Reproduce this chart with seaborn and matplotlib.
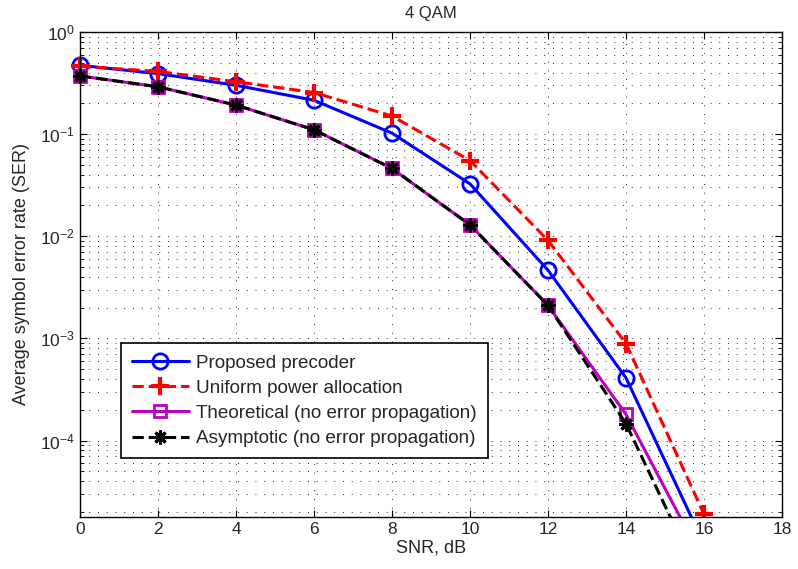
import numpy as np
import pandas as pd
import matplotlib
matplotlib.use("Agg")
import matplotlib.pyplot as plt
import seaborn as sns

# SER 곡선 값
snr = [0, 2, 4, 6, 8, 10, 12, 14, 16]
ser_proposed = [0.47, 0.39, 0.30, 0.214, 0.102, 0.0325, 0.00464, 4.1e-4, 9.7e-6]
ser_uniform = [0.46, 0.41, 0.325, 0.255, 0.15, 0.055, 0.0091, 8.9e-4, 1.9e-5]
ser_theory = [0.37, 0.29, 0.192, 0.11, 0.046, 0.0129, 0.0021, 1.8e-4, 6.4e-6]
ser_asym = [0.37, 0.29, 0.192, 0.11, 0.046, 0.0129, 0.0021, 1.46e-4, 3.6e-6]
labels = ["Proposed precoder", "Uniform power allocation",
          "Theoretical (no error propagation)", "Asymptotic (no error propagation)"]
xticks = list(range(0, 19, 2))

sns.set_style("ticks")
plt.rcParams['font.family'] = ['Liberation Sans', 'DejaVu Sans']

fig = plt.figure(figsize=(7.98, 5.69), dpi=100)
ax = fig.add_axes([0.1003, 0.092, 0.8797, 0.852])

lw = 2.2
sns.lineplot(x=snr, y=ser_proposed, ax=ax, color='#0000ff', lw=lw, marker='o',
             markersize=11, markerfacecolor='none', markeredgecolor='#0000ff',
             markeredgewidth=2, label=labels[0])
sns.lineplot(x=snr, y=ser_uniform, ax=ax, color='#ff0000', lw=lw, linestyle='--',
             dashes=(4, 2.5), marker='+', markersize=13, markeredgewidth=3,
             markeredgecolor='#ff0000', label=labels[1])
sns.lineplot(x=snr, y=ser_theory, ax=ax, color='#bf00bf', lw=lw, marker='s',
             markersize=9, markerfacecolor='none', markeredgecolor='#bf00bf',
             markeredgewidth=2, label=labels[2])
sns.lineplot(x=snr, y=ser_asym, ax=ax, color='black', lw=lw, linestyle='--',
             dashes=(4, 2.5), marker=(8, 2, 0), markersize=10, markeredgewidth=2.2,
             markeredgecolor='black', label=labels[3])

# 마커가 축 가장자리에서 잘리지 않도록 (아래쪽만 자르기)
clip = matplotlib.patches.Rectangle((-0.05, 0), 1.1, 1.1, transform=ax.transAxes)
for ln in ax.lines:
    ln.set_clip_path(clip)

ax.set_yscale('log')
ax.set_xlim(0, 18)
ax.set_ylim(1.8e-5, 1)
ax.set_xticks(xticks)
ax.minorticks_off()
ax.yaxis.set_minor_locator(matplotlib.ticker.LogLocator(base=10, subs=np.arange(2, 10)))
ax.yaxis.set_minor_formatter(matplotlib.ticker.NullFormatter())
ax.grid(which='major', axis='both', linestyle=(0, (1, 8)), color='0.15', lw=0.7)
ax.grid(which='minor', axis='y', linestyle=(0, (1, 8)), color='0.15', lw=0.7)
ax.tick_params(which='both', direction='in', top=True, right=True, labelsize=12.5,
               color='black')
ax.tick_params(which='major', length=5)
ax.tick_params(which='minor', length=3)
for s in ax.spines.values():
    s.set_color('black')
    s.set_linewidth(1)

ax.set_title("4 QAM", fontsize=12, pad=10)
ax.set_xlabel("SNR, dB", fontsize=13, labelpad=2)
ax.set_ylabel("Average symbol error rate (SER)", fontsize=13, labelpad=7)

leg = ax.legend(loc='upper left', bbox_to_anchor=(0.058, 0.358), fontsize=13.6,
                frameon=True, fancybox=False, edgecolor='black', framealpha=1,
                borderpad=0.6, labelspacing=0.42, handlelength=3.0, handletextpad=0.4,
                borderaxespad=0)
leg.get_frame().set_linewidth(1.2)

fig.savefig("out.png", dpi=100)
